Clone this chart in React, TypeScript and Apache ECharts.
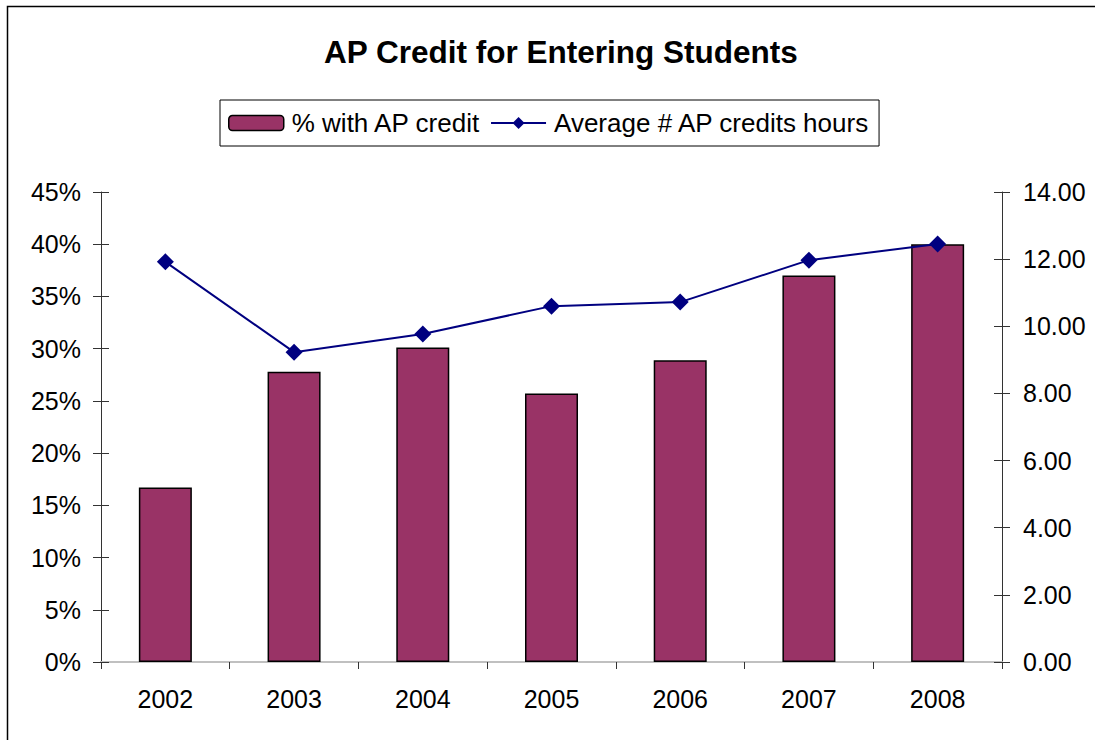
import React, { useEffect, useRef } from "react";
import * as echarts from "echarts";

const years = ["2002", "2003", "2004", "2005", "2006", "2007", "2008"];
const pctWithAP = [16.7, 27.8, 30.1, 25.7, 28.9, 37.0, 40.0];
const avgHours = [11.92, 9.23, 9.77, 10.6, 10.72, 11.97, 12.45];
const titleText = "AP Credit for Entering Students";
const barName = "% with AP credit";
const lineName = "Average # AP credits hours";

const FONT = "'Liberation Sans', Arial, sans-serif";

export default function App() {
  const ref = useRef<HTMLDivElement>(null);
  useEffect(() => {
    if (!ref.current) return;
    const chart = echarts.init(ref.current, null, { renderer: "svg" });
    const tickAxisBase = {
      type: "value" as const,
      min: 0,
      axisLabel: { show: false },
      splitLine: { show: false },
      axisLine: { show: false },
      axisTick: { show: true, inside: true, length: 8, lineStyle: { color: "#333", width: 1 } },
    };
    chart.setOption({
      animation: false,
      backgroundColor: "#fff",
      textStyle: { fontFamily: FONT },
      title: {
        text: titleText,
        left: 319,
        top: 31,
        textStyle: { fontFamily: FONT, fontSize: 31.5, fontWeight: "bold", color: "#000" },
      },
      legend: {
        left: 220,
        top: 100,
        padding: [10, 9, 10, 8],
        borderColor: "#000",
        borderWidth: 1,
        itemWidth: 55,
        itemHeight: 15,
        itemGap: 9,
        textStyle: { fontFamily: FONT, fontSize: 26, color: "#000", padding: [0, 0, 0, 3] },
        data: [
          { name: barName, itemStyle: { borderColor: "#000", borderWidth: 1.5 } },
          { name: lineName },
        ],
      },
      grid: { left: 101, right: 93, top: 192, bottom: 78, containLabel: false },
      xAxis: [
        {
          type: "category",
          data: years,
          axisLine: { lineStyle: { color: "#555", width: 1.5 } },
          axisTick: { show: true, length: 7, lineStyle: { color: "#333" } },
          axisLabel: { fontFamily: FONT, fontSize: 25, color: "#000", margin: 24 },
        },
        {
          type: "category",
          data: years,
          position: "top",
          axisLine: { lineStyle: { color: "#c0c0c0", width: 2 } },
          axisTick: { show: false },
          axisLabel: { show: false },
        },
      ],
      yAxis: [
        {
          type: "value",
          min: 0,
          max: 45,
          interval: 5,
          position: "left",
          axisLine: { show: true, lineStyle: { color: "#333", width: 1 } },
          axisTick: { show: true, length: 8, lineStyle: { color: "#333" } },
          axisLabel: { fontFamily: FONT, fontSize: 25, color: "#000", margin: 20, formatter: "{value}%" },
          splitLine: { show: false },
        },
        {
          type: "value",
          min: 0,
          max: 14,
          interval: 2,
          position: "right",
          axisLine: { show: true, lineStyle: { color: "#333", width: 1 } },
          axisTick: { show: true, length: 8, lineStyle: { color: "#333" } },
          axisLabel: {
            fontFamily: FONT,
            fontSize: 25,
            color: "#000",
            margin: 21,
            formatter: (v: number) => v.toFixed(2),
          },
          splitLine: { show: false },
        },
        { ...tickAxisBase, max: 45, interval: 5, position: "left" },
        { ...tickAxisBase, max: 14, interval: 2, position: "right" },
      ],
      series: [
        {
          name: barName,
          type: "bar",
          data: pctWithAP,
          yAxisIndex: 0,
          barWidth: 53,
          itemStyle: { color: "#993366", borderColor: "#000", borderWidth: 1.5 },
        },
        {
          name: lineName,
          type: "line",
          data: avgHours,
          yAxisIndex: 1,
          symbol: "diamond",
          symbolSize: 17,
          itemStyle: { color: "#000080" },
          lineStyle: { color: "#000080", width: 2 },
        },
      ],
      graphic: [
        {
          type: "rect",
          shape: { x: 7.5, y: 6.5, width: 1200, height: 900 },
          style: { fill: "none", stroke: "#000", lineWidth: 1.5 },
          silent: true,
        },
      ],
    });
    return () => chart.dispose();
  }, []);
  return (
    <div
      ref={ref}
      style={{ position: "absolute", left: 0, top: 0, width: 1095, height: 740 }}
    />
  );
}
